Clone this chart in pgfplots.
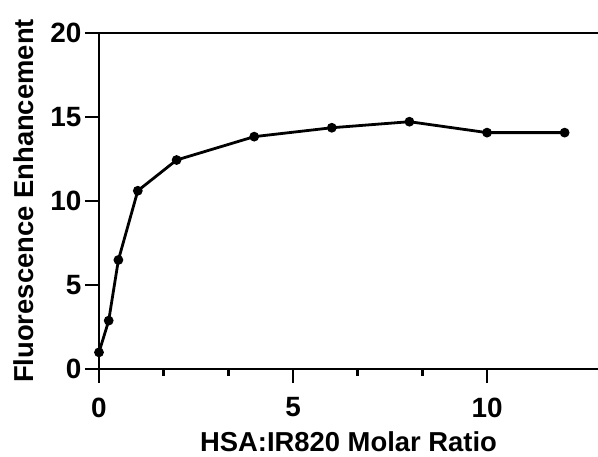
\documentclass[border=0pt]{standalone}
\usepackage{pgfplots}
\pgfplotsset{compat=1.18}
\usepackage{fontspec}
\setmainfont{Liberation Sans}
\begin{document}
\begin{tikzpicture}
\begin{axis}[
  name=ax,
  scale only axis,
  width=499bp, height=336bp,
  xmin=0, xmax=12.86, ymin=0, ymax=20,
  axis x line*=bottom, axis y line*=left,
  axis line style={line width=2.8bp, -},
  xtick={0,5,10}, ytick={0,5,10,15,20},
  minor x tick num=2,
  tick style={black, line width=2.6bp},
  major tick length=14bp, minor tick length=7bp,
  tick align=outside,
  /pgf/number format/assume math mode=true,
  ticklabel style={font=\fontsize{28}{32}\selectfont\bfseries},
  xticklabel style={yshift=-11bp},
  xlabel={HSA:IR820 Molar Ratio},
  ylabel={Fluorescence Enhancement},
  label style={font=\fontsize{27.5}{31}\selectfont\bfseries},
  xlabel style={yshift=-8bp},
  ylabel style={yshift=10bp},
  clip=false,
]
\draw[line width=2.8bp] (rel axis cs:0,1) -- (rel axis cs:1,1);
\addplot[black, line width=2.8bp, mark=*, mark size=3.4bp] coordinates {
(0,0.99) (0.25,2.88) (0.5,6.49) (1,10.61) (2,12.44) (4,13.83) (6,14.36) (8,14.72) (10,14.07) (12,14.07)
};
\end{axis}
\pgfresetboundingbox
\path ([xshift=-99bp,yshift=-88bp]ax.south west) rectangle ([yshift=33bp]ax.north east);
\end{tikzpicture}
\end{document}
